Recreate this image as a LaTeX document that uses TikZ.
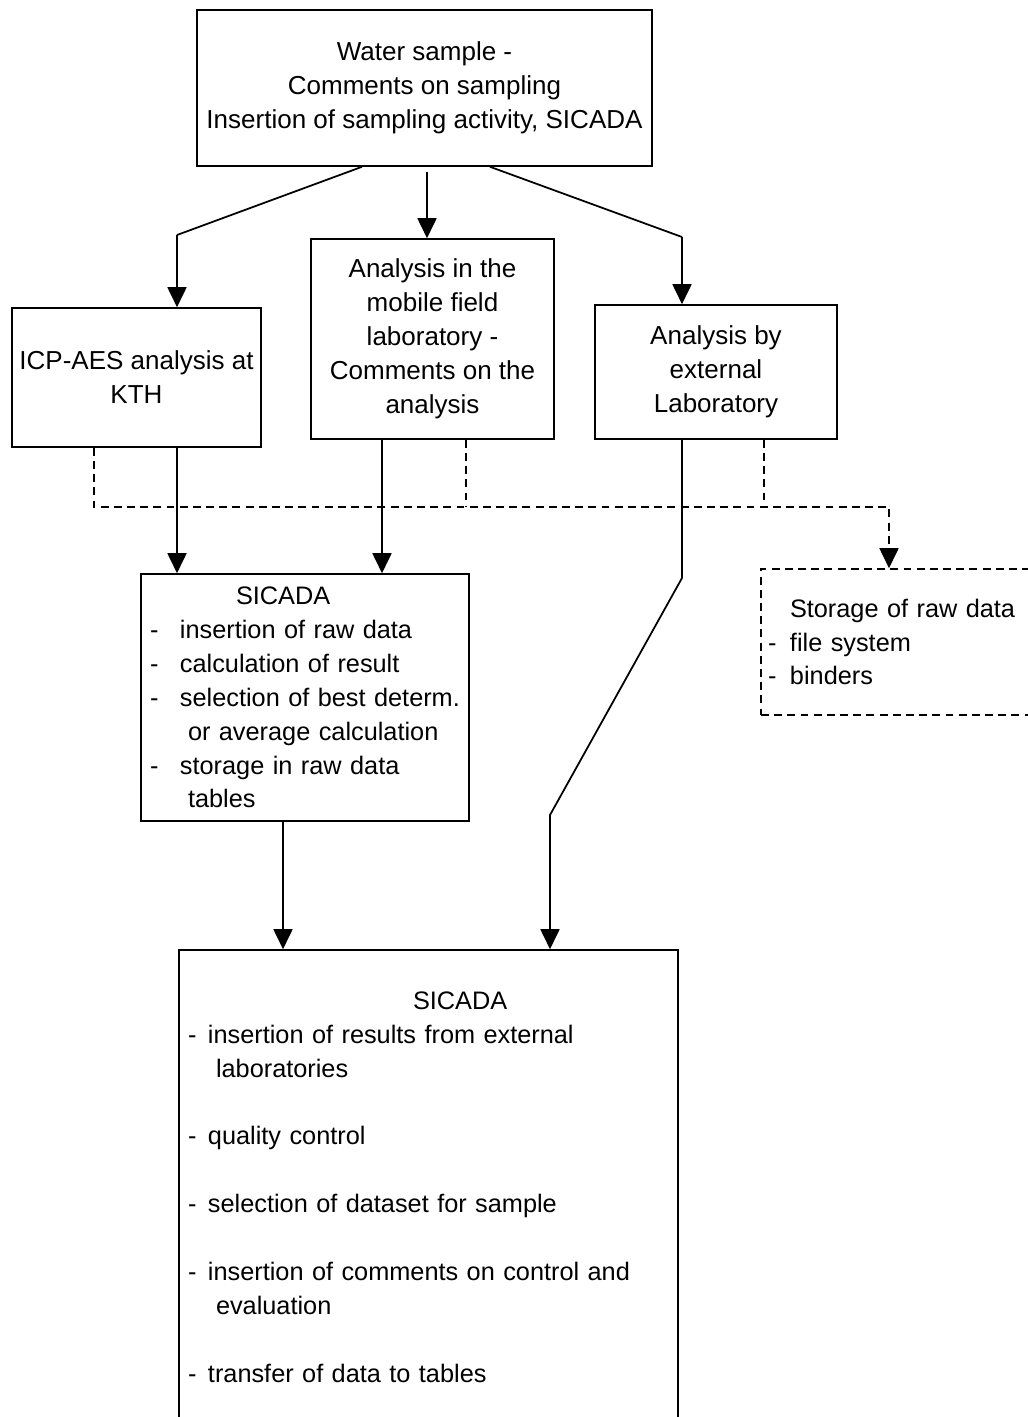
\documentclass[tikz,border=0pt]{standalone}
\usepackage{fontspec}
\setmainfont{Liberation Sans}
\usetikzlibrary{arrows.meta, positioning}
\newcommand{\itm}[2][0.6cm]{\makebox[#1][l]{-}\mbox{#2}}

\begin{document}
\begin{tikzpicture}[
  box/.style={draw, line width=0.9pt, inner sep=0pt, align=center,
    font=\fontsize{14.8}{19.3}\selectfont},
  listbox/.style={box, align=left, inner xsep=0.18cm,
    font=\fontsize{14.4}{19.3}\selectfont},
  line/.style={line width=1pt},
  arr/.style={line, -{Triangle[length=0.4cm, width=0.38cm]}},
  dline/.style={line, dash pattern=on 4.5pt off 3pt},
]
\fill[white] (0,0) rectangle (20.54,-28.34);
\useasboundingbox (0,0) rectangle (20.54,-28.34);

% Sample
\node[box, minimum width=9.10cm, minimum height=3.12cm] (top) at (8.49,-1.76)
  {Water sample -\\Comments on sampling\\Insertion of sampling activity, SICADA};

% Analyses
\node[box, minimum width=4.98cm, minimum height=2.78cm] (icp) at (2.73,-7.55)
  {ICP-AES analysis at\\KTH};
\node[box, minimum width=4.86cm, minimum height=4.00cm] (mob) at (8.65,-6.78)
  {Analysis in the\\mobile field\\laboratory -\\Comments on the\\analysis};
\node[box, minimum width=4.84cm, minimum height=2.68cm] (ext) at (14.32,-7.44)
  {Analysis by\\external\\Laboratory};

% SICADA raw data
\node[listbox, text width=6.20cm, minimum width=6.56cm, minimum height=4.94cm] (sic1) at (6.10,-13.95)
  {\hspace*{1.72cm}SICADA\\
   \itm{insertion of raw data}\\
   \itm{calculation of result}\\
   \itm{selection of best determ.}\\
   \hspace*{0.76cm}or average calculation\\
   \itm{storage in raw data}\\
   \hspace*{0.76cm}tables};

% Storage
\node[listbox, dline, line width=0.9pt, inner xsep=0.14cm, text width=5.30cm,
  minimum width=5.58cm, minimum height=2.92cm] (stor) at (18.01,-12.84)
  {\hspace*{0.44cm}Storage of raw data\\
   \itm[0.44cm]{file system}\\
   \itm[0.44cm]{binders}};

% SICADA results
\node[listbox, text width=9.62cm, minimum width=9.98cm, minimum height=9.48cm] (sic2) at (8.57,-23.74)
  {\hspace*{4.5cm}SICADA\\
   \itm[0.4cm]{insertion of results from external}\\
   \hspace*{0.56cm}laboratories\\[19.3pt]
   \itm[0.4cm]{quality control}\\[19.3pt]
   \itm[0.4cm]{selection of dataset for sample}\\[19.3pt]
   \itm[0.4cm]{insertion of comments on control and}\\
   \hspace*{0.56cm}evaluation\\[19.3pt]
   \itm[0.4cm]{transfer of data to tables}};

% Sample to analyses
\coordinate (kl) at (3.54,-4.70);
\coordinate (kr) at (13.64,-4.74);
\coordinate (km) at ([xshift=0.05cm]top.south);
\draw[line] ([xshift=-1.25cm]top.south) -- (kl);
\draw[arr] (kl) -- (kl |- icp.north);
\draw[arr] ([yshift=-0.1cm]km) -- (km |- mob.north);
\draw[line] ([xshift=1.31cm]top.south) -- (kr);
\draw[arr] (kr) -- (kr |- ext.north);

% Analyses to SICADA
\coordinate (mm) at ([xshift=-1.01cm]mob.south);
\draw[arr] (kl |- icp.south) -- (kl |- sic1.north);
\draw[arr] (mm) -- (mm |- sic1.north);

\coordinate (e1) at (13.64,-11.56);
\coordinate (e2) at (11.00,-16.30);
\draw[arr] (kr |- ext.south) -- (e1) -- (e2) -- (e2 |- sic2.north);

\coordinate (ss) at ([xshift=-0.44cm]sic1.south);
\draw[arr] (ss) -- (ss |- sic2.north);

% Raw data storage
\coordinate (dj) at (17.78,-10.14);
\coordinate (dm) at ([xshift=0.67cm]mob.south);
\coordinate (de) at ([xshift=0.96cm]ext.south);
\draw[dline, -{Triangle[length=0.4cm, width=0.38cm]}]
  ([xshift=-0.85cm]icp.south) |- (dj) -- (dj |- stor.north);
\draw[dline] (dm) -- (dm |- dj);
\draw[dline] (de) -- (de |- dj);
\end{tikzpicture}
\end{document}
